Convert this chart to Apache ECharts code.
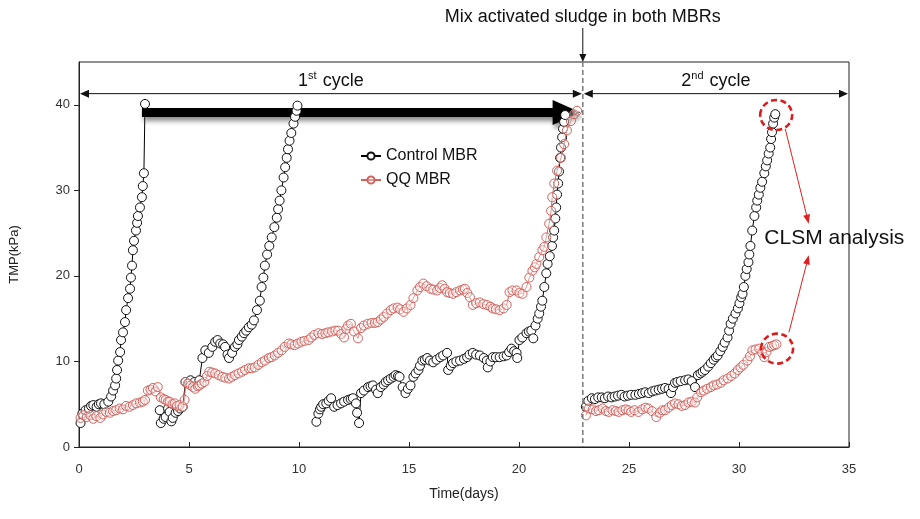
<!DOCTYPE html>
<html><head><meta charset="utf-8">
<script src="https://cdn.jsdelivr.net/npm/echarts@6/dist/echarts.min.js"></script>
<style>html,body{margin:0;padding:0;background:#fff}#c{width:920px;height:519px}</style>
</head><body><div id="c"></div>
<script>
// ---- data: [day, TMP(kPa)] ----
const controlRun1 = [[0.07,2.8],[0.15,3.9],[0.3,4.3],[0.45,4.5],[0.55,4.8],[0.65,4.9],[0.8,4.7],[0.9,5.0],[1.0,5.1],[1.15,5.0],[1.33,5.3],[1.46,5.9],[1.55,6.6],[1.64,7.2],[1.69,8.0],[1.73,9.0],[1.78,10.1],[1.87,11.1],[1.91,12.5],[2.0,13.4],[2.09,14.6],[2.14,16.0],[2.23,17.4],[2.32,18.5],[2.36,19.8],[2.41,21.2],[2.45,23.0],[2.5,24.1],[2.59,25.3],[2.64,26.2],[2.68,27.0],[2.77,28.0],[2.86,29.2],[2.9,30.5],[2.95,32.0],[3.0,40.1]];
const controlRun2 = [[3.67,4.3],[3.72,2.8],[3.85,3.3],[3.94,3.5],[4.05,4.5],[4.12,4.1],[4.2,3.0],[4.26,3.4],[4.39,4.0],[4.5,4.2],[4.6,4.5],[4.71,4.7],[4.84,7.6],[5.0,7.5],[5.07,7.8],[5.25,7.6],[5.47,7.8],[5.61,10.4],[5.74,11.3],[5.9,11.0],[6.06,11.7],[6.19,12.3],[6.3,12.5],[6.42,12.1],[6.55,12.0],[6.64,11.7],[6.75,10.8],[6.82,10.4],[6.96,11.0],[7.09,11.7],[7.2,12.0],[7.27,12.5],[7.4,12.9],[7.5,13.3],[7.6,13.6],[7.72,14.0],[7.85,14.3],[7.95,14.8],[8.09,16.0],[8.22,17.1],[8.3,18.7],[8.38,19.8],[8.45,21.2],[8.55,22.5],[8.65,23.5],[8.76,24.5],[8.88,25.7],[8.99,26.8],[9.05,27.8],[9.12,28.8],[9.2,30.0],[9.3,31.5],[9.37,32.7],[9.44,33.8],[9.5,34.8],[9.57,35.8],[9.65,36.7],[9.75,37.8],[9.82,38.6],[9.89,39.3],[9.93,39.9]];
const controlRun3 = [[10.79,2.95],[10.88,3.9],[10.95,4.4],[11.01,4.7],[11.1,5.0],[11.24,5.1],[11.35,5.4],[11.46,5.7],[11.6,4.7],[11.75,4.9],[11.91,5.1],[12.05,5.3],[12.23,5.5],[12.35,5.6],[12.45,5.7],[12.59,5.1],[12.64,4.0],[12.73,2.8],[12.82,6.3],[12.95,6.6],[13.14,7.0],[13.25,7.1],[13.36,7.2],[13.5,6.7],[13.58,6.3],[13.72,7.0],[13.85,7.3],[13.94,7.6],[14.05,7.8],[14.17,8.0],[14.3,8.2],[14.39,8.4],[14.5,8.3],[14.57,8.2],[14.71,7.0],[14.84,6.3],[14.95,6.8],[15.07,7.2],[15.2,8.2],[15.3,8.6],[15.43,9.0],[15.5,9.5],[15.61,10.1],[15.72,10.2],[15.83,10.4],[15.95,10.1],[16.1,9.9],[16.25,10.2],[16.42,10.5],[16.55,10.7],[16.73,11.0],[16.78,9.0],[16.9,9.5],[17.0,9.8],[17.15,10.0],[17.32,10.1],[17.5,10.3],[17.64,10.5],[17.75,10.8],[17.9,11.0],[18.05,10.8],[18.22,10.7],[18.4,10.4],[18.54,10.1],[18.58,9.3],[18.7,10.0],[18.81,10.5],[18.95,10.5],[19.12,10.5],[19.3,10.6],[19.44,10.7],[19.55,11.1],[19.66,11.5],[19.78,11.2],[19.89,11.0],[19.92,10.4],[20.02,12.5],[20.15,12.8],[20.34,13.3],[20.45,13.5],[20.56,13.6],[20.65,12.7],[20.75,14.2],[20.85,15.0],[20.92,15.6],[21.0,16.4],[21.06,17.1],[21.15,18.7],[21.24,20.3],[21.3,21.4],[21.4,22.3],[21.5,23.5],[21.55,24.5],[21.6,25.3],[21.65,26.7],[21.69,28.0],[21.73,29.5],[21.78,30.8],[21.82,32.2],[21.87,33.8],[21.91,35.0],[21.96,36.2],[22.0,37.2],[22.05,38.0],[22.1,38.8]];
const controlCycle2 = [[23.04,4.7],[23.15,5.4],[23.31,5.7],[23.45,5.6],[23.6,5.8],[23.76,5.8],[23.9,5.7],[24.05,5.9],[24.21,5.8],[24.35,5.9],[24.5,6.0],[24.66,6.1],[24.8,5.9],[24.95,6.0],[25.1,6.1],[25.29,6.1],[25.45,6.2],[25.6,6.3],[25.74,6.4],[25.9,6.3],[26.05,6.5],[26.19,6.6],[26.35,6.7],[26.5,6.8],[26.64,6.9],[26.8,6.8],[26.91,6.3],[27.0,7.0],[27.09,7.5],[27.2,7.6],[27.35,7.7],[27.55,7.8],[27.7,7.9],[27.85,7.7],[28.0,7.0],[28.13,8.4],[28.25,8.6],[28.35,8.8],[28.45,9.0],[28.6,9.4],[28.72,9.8],[28.85,10.2],[28.95,10.5],[29.03,10.7],[29.15,11.2],[29.26,11.7],[29.35,12.2],[29.48,12.8],[29.55,13.6],[29.62,14.4],[29.72,15.0],[29.84,15.6],[29.95,16.2],[30.02,16.8],[30.1,17.5],[30.16,17.9],[30.22,18.7],[30.29,20.0],[30.35,20.8],[30.43,21.6],[30.47,22.5],[30.52,23.5],[30.6,25.3],[30.7,27.0],[30.78,28.0],[30.83,28.8],[30.9,29.5],[30.97,30.3],[31.05,31.0],[31.15,32.0],[31.22,32.8],[31.28,33.5],[31.35,34.3],[31.42,35.0],[31.46,36.0],[31.5,36.8],[31.55,37.8],[31.6,38.5],[31.65,38.9]];
const qqCycle1 = [[0.07,3.4],[0.2,3.7],[0.35,3.5],[0.52,3.7],[0.65,3.3],[0.79,3.6],[0.97,3.4],[1.1,3.8],[1.24,4.1],[1.4,4.0],[1.55,4.2],[1.69,4.3],[1.85,4.5],[2.0,4.4],[2.14,4.8],[2.3,4.7],[2.45,4.9],[2.6,5.1],[2.77,5.2],[2.9,5.3],[3.0,5.5],[3.13,6.6],[3.25,6.7],[3.36,6.9],[3.48,6.5],[3.58,7.0],[3.72,5.8],[3.85,5.6],[3.94,5.5],[4.05,5.3],[4.12,5.3],[4.25,5.0],[4.35,5.1],[4.45,4.8],[4.57,4.9],[4.71,4.7],[4.8,5.5],[4.84,7.6],[4.95,7.4],[5.07,7.2],[5.18,7.0],[5.29,6.8],[5.4,7.1],[5.47,7.2],[5.58,7.4],[5.7,7.6],[5.82,8.3],[5.92,8.8],[6.05,8.7],[6.19,8.6],[6.35,8.4],[6.51,8.2],[6.65,8.1],[6.82,8.0],[6.95,8.2],[7.09,8.4],[7.25,8.6],[7.41,8.8],[7.55,9.0],[7.72,9.2],[7.85,9.2],[7.99,9.3],[8.15,9.6],[8.31,9.9],[8.45,10.1],[8.63,10.4],[8.75,10.5],[8.9,10.7],[9.05,11.0],[9.21,11.3],[9.35,11.7],[9.53,12.1],[9.65,12.0],[9.8,11.9],[9.95,12.1],[10.11,12.3],[10.25,12.4],[10.43,12.5],[10.55,12.8],[10.7,13.1],[10.88,13.3],[11.05,13.2],[11.2,13.3],[11.33,13.4],[11.5,13.5],[11.65,13.6],[11.78,13.6],[11.92,13.2],[12.05,12.8],[12.15,13.8],[12.23,14.2],[12.36,14.4],[12.5,13.5],[12.68,12.7],[12.82,13.9],[12.95,14.2],[13.13,14.4],[13.3,14.5],[13.45,14.5],[13.58,14.6],[13.72,14.9],[13.85,15.2],[14.0,15.6],[14.17,16.0],[14.3,16.2],[14.48,16.3],[14.6,16.1],[14.75,15.8],[14.9,16.2],[15.07,16.6],[15.2,17.4],[15.38,18.3],[15.5,18.7],[15.65,19.1],[15.8,18.8],[15.97,18.5],[16.1,18.4],[16.28,18.3],[16.4,18.6],[16.51,18.9],[16.62,18.5],[16.73,18.1],[16.85,18.0],[17.0,17.9],[17.15,18.1],[17.32,18.3],[17.45,18.4],[17.54,18.5],[17.65,18.0],[17.77,17.5],[17.9,16.6],[18.05,16.8],[18.22,16.9],[18.38,16.7],[18.54,16.6],[18.7,16.4],[18.81,16.2],[18.95,16.1],[19.12,16.0],[19.3,16.2],[19.44,16.6],[19.57,18.1],[19.7,18.3],[19.89,18.3],[20.02,18.0],[20.16,17.9],[20.34,18.7],[20.47,19.8],[20.61,20.6],[20.72,21.0],[20.79,21.4],[20.92,22.2],[21.06,23.0],[21.15,23.4],[21.24,24.5],[21.37,26.1],[21.46,27.6],[21.51,29.2],[21.6,30.8],[21.73,32.3],[21.91,33.8],[22.05,35.4],[22.18,37.0],[22.36,38.1],[22.5,38.9],[22.64,39.3]];
const qqCycle2 = [[23.04,3.7],[23.18,4.5],[23.35,4.4],[23.5,4.2],[23.63,4.3],[23.8,4.5],[23.95,4.2],[24.08,4.1],[24.25,4.3],[24.4,4.2],[24.53,4.1],[24.7,4.3],[24.85,4.4],[24.98,4.3],[25.1,4.1],[25.25,4.3],[25.43,4.1],[25.6,4.4],[25.75,4.6],[25.88,4.5],[26.05,4.2],[26.24,3.5],[26.4,4.0],[26.52,4.3],[26.64,4.3],[26.8,4.6],[26.95,4.9],[27.09,5.1],[27.25,5.0],[27.4,4.8],[27.55,4.9],[27.7,5.2],[27.85,5.3],[28.0,5.2],[28.1,5.8],[28.27,6.4],[28.4,6.6],[28.55,6.8],[28.72,7.0],[28.85,7.2],[29.0,7.3],[29.17,7.5],[29.3,7.8],[29.48,8.0],[29.65,8.3],[29.8,8.6],[29.95,9.0],[30.07,9.3],[30.2,9.6],[30.38,10.1],[30.5,10.6],[30.61,11.3],[30.75,11.4],[30.92,11.5],[31.05,11.0],[31.15,10.5],[31.25,11.1],[31.37,11.7],[31.5,11.8],[31.6,11.9],[31.7,12.0]];
const yTicks = [0,10,20,30,40];
const xTicks = [0,5,10,15,20,25,30,35];
const seriesNames = ['Control MBR','QQ MBR'];
const mixDay = 22.9;

const GAP = ['-','-'];
function joinRuns(runs){ const out=[]; runs.forEach((r,i)=>{ if(i) out.push(GAP); r.forEach(p=>out.push(p)); }); return out; }

const FONT = "'Liberation Sans', Arial, sans-serif";
const RED = '#d3625c';
const chart = echarts.init(document.getElementById('c'), null, {renderer:'canvas'});
const option = {
  animation:false,
  backgroundColor:'#fff',
  textStyle:{fontFamily:FONT},
  grid:{left:76,right:71,top:62,bottom:72,show:true,borderColor:'#222',borderWidth:1,backgroundColor:'transparent'},
  legend:{
    left:355, top:143, orient:'vertical', itemGap:8, itemWidth:20, itemHeight:9,
    data:seriesNames,
    textStyle:{fontSize:16,color:'#111',fontFamily:FONT}
  },
  xAxis:{
    type:'value', min:0, max:35, interval:5,
    name:'Time(days)', nameLocation:'middle', nameGap:40,
    nameTextStyle:{fontSize:14,color:'#222'},
    axisLine:{show:true,lineStyle:{color:'#222',width:1}},
    axisTick:{show:true,inside:true,length:5,lineStyle:{color:'#222'}},
    axisLabel:{fontSize:13,color:'#333',margin:16,customValues:xTicks},
    splitLine:{show:false}
  },
  yAxis:{
    type:'value', min:0, max:45, interval:10,
    name:'TMP(kPa)', nameLocation:'middle', nameGap:58,
    nameTextStyle:{fontSize:13,color:'#222'},
    axisLine:{show:true,lineStyle:{color:'#222',width:1}},
    axisTick:{show:true,inside:false,length:5,lineStyle:{color:'#222'},customValues:yTicks},
    axisLabel:{fontSize:13,color:'#333',margin:9,customValues:yTicks},
    splitLine:{show:false}
  },
  series:[
    {name:seriesNames[0], type:'line', symbol:'circle', symbolSize:9, connectNulls:false,
     data: joinRuns([controlRun1,controlRun2,controlRun3,controlCycle2]),
     lineStyle:{color:'#000',width:1},
     itemStyle:{color:'#fff',borderColor:'#111',borderWidth:1},
     emphasis:{disabled:true}, z:3},
    {name:seriesNames[1], type:'line', symbol:'circle', symbolSize:9, connectNulls:false,
     data: joinRuns([qqCycle1,qqCycle2]),
     lineStyle:{color:RED,width:1},
     itemStyle:{color:'rgba(255,255,255,0.35)',borderColor:RED,borderWidth:1},
     emphasis:{disabled:true}, z:4}
  ]
};
chart.setOption(option);

function P(d,v){ return chart.convertToPixel({gridIndex:0},[d,v]); }
function head(x1,y1,x2,y2,len,half,color,z){
  const a=Math.atan2(y2-y1,x2-x1), c=Math.cos(a), s=Math.sin(a);
  const bx=x2-len*c, by=y2-len*s;
  return {type:'polygon', z:z||10, shape:{points:[[x2,y2],[bx-half*s,by+half*c],[bx+half*s,by-half*c]]}, style:{fill:color}};
}
function seg(x1,y1,x2,y2,color,w,z,dash){
  return {type:'line', z:z||10, shape:{x1,y1,x2,y2}, style:{stroke:color,lineWidth:w||1,lineDash:dash||null}};
}
function arrow(x1,y1,x2,y2,color,len,half,w){
  const a=Math.atan2(y2-y1,x2-x1);
  return [seg(x1,y1,x2-len*0.8*Math.cos(a),y2-len*0.8*Math.sin(a),color,w), head(x1,y1,x2,y2,len,half,color)];
}
const g=[];
const yTop=P(0,45)[1], yBot=P(0,0)[1];
const xm=P(mixDay,0)[0];
g.push(seg(xm,yTop,xm,yBot,'#808080',1.6,5,[5,3]));
g.push({type:'text', z:10, style:{text:'Mix activated sludge in both MBRs', x:xm, y:17, align:'center', verticalAlign:'middle', fontSize:18, fontFamily:FONT, fill:'#111'}});
g.push(...arrow(xm,28,xm,yTop,'#111',8,3.5,1));
const yc=P(0,41.3)[1];
const x0=P(0,0)[0], x35=P(35,0)[0];
g.push(seg(x0+3,yc,xm-3,yc,'#111',1));
g.push(head(xm,yc,x0+1,yc,9,4,'#111'));
g.push(head(x0,yc,xm-1,yc,9,4,'#111'));
g.push(seg(xm+3,yc,x35-3,yc,'#111',1));
g.push(head(x35,yc,xm+1,yc,9,4,'#111'));
g.push(head(xm,yc,x35-1,yc,9,4,'#111'));
g.push({type:'text', z:10, style:{text:'1{s|st} cycle', x:(x0+xm)/2, y:yc-13, align:'center', verticalAlign:'middle', fontSize:18, fontFamily:FONT, fill:'#111', rich:{s:{fontSize:11,fontFamily:FONT,fill:'#111',padding:[0,1,9,0]}}}});
g.push({type:'text', z:10, style:{text:'2{s|nd} cycle', x:(xm+x35)/2, y:yc-13, align:'center', verticalAlign:'middle', fontSize:18, fontFamily:FONT, fill:'#111', rich:{s:{fontSize:11,fontFamily:FONT,fill:'#111',padding:[0,1,9,0]}}}});
const a1=P(2.86,39.1), a2=P(22.8,39.1);
const hl=28, hh=12.5;
g.push({type:'group', z:1, children:[
  {type:'rect', z:1, shape:{x:a1[0], y:a1[1]-4.5, width:a2[0]-hl-a1[0]+1, height:9}, style:{fill:'#000',shadowBlur:5,shadowOffsetX:2,shadowOffsetY:4,shadowColor:'rgba(0,0,0,0.45)'}},
  {type:'polygon', z:1, shape:{points:[[a2[0]-hl,a2[1]-hh],[a2[0],a2[1]],[a2[0]-hl,a2[1]+hh]]}, style:{fill:'#000',shadowBlur:5,shadowOffsetX:2,shadowOffsetY:4,shadowColor:'rgba(0,0,0,0.45)'}}
]});
const c1=P(31.69,38.8), c2=P(31.73,11.5);
[c1,c2].forEach(c=>g.push({type:'ellipse', z:10, shape:{cx:c[0],cy:c[1],rx:16,ry:15}, style:{fill:null,stroke:'#d81e1e',lineWidth:2.6,lineDash:[6,3.5]}}));
const r1a=P(32.1,37.2), r1b=P(33.17,26.1), r2a=P(32.27,13.4), r2b=P(33.17,22.4);
g.push(...arrow(r1a[0],r1a[1],r1b[0],r1b[1],'#e02020',9,3.5,1));
g.push(...arrow(r2a[0],r2a[1],r2b[0],r2b[1],'#e02020',9,3.5,1));
const tp=P(31.06,24.4);
g.push({type:'text', z:10, style:{text:'CLSM analysis', x:tp[0]+2, y:tp[1], align:'left', verticalAlign:'middle', fontSize:21, fontFamily:FONT, fill:'#111'}});
chart.setOption({graphic:g});
</script>
</body></html>
